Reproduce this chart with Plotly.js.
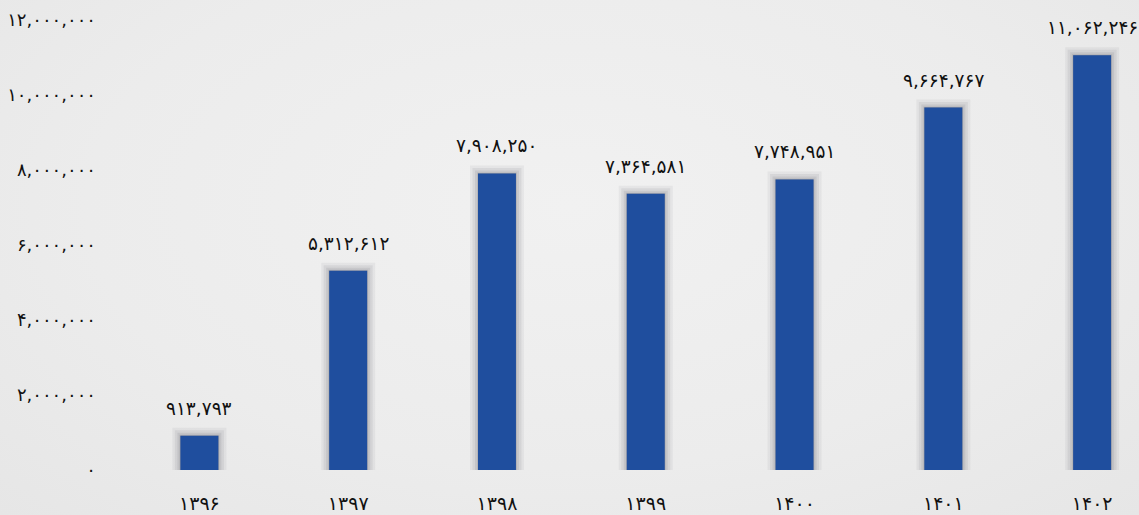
<!DOCTYPE html>
<html>
<head>
<meta charset="utf-8">
<script src="https://cdn.plot.ly/plotly-3.0.1.min.js"></script>
<style>
html,body{margin:0;padding:0;}
body{width:1139px;height:515px;background:radial-gradient(ellipse at 50% 40%, #f1f1f1 0%, #ececec 60%, #e6e6e6 100%);}
#chart{width:1139px;height:515px;}
</style>
</head>
<body>
<div id="chart"></div>
<script>
const years = ['۱۳۹۶','۱۳۹۷','۱۳۹۸','۱۳۹۹','۱۴۰۰','۱۴۰۱','۱۴۰۲'];
const values = [913793, 5312612, 7908250, 7364581, 7748951, 9664767, 11062246];
const yTickVals = [0, 2000000, 4000000, 6000000, 8000000, 10000000, 12000000];
const yTickText = ['۰','۲,۰۰۰,۰۰۰','۴,۰۰۰,۰۰۰','۶,۰۰۰,۰۰۰','۸,۰۰۰,۰۰۰','۱۰,۰۰۰,۰۰۰','۱۲,۰۰۰,۰۰۰'];

function toFa(n){
  const s = n.toLocaleString('en-US');
  return s.replace(/[0-9]/g, d => '۰۱۲۳۴۵۶۷۸۹'[+d]);
}

const FONT = '"DejaVu Sans", "Noto Sans", sans-serif';
const W = 0.255;

const traces = [];
// soft shadow layers
[[16,0.08],[11,0.10],[6,0.13],[2,0.18]].forEach(([lw,a])=>{
  traces.push({
    type:'bar', x: years, y: values, width: W,
    marker:{color:'rgba(100,100,110,'+a+')', line:{color:'rgba(100,100,110,'+a+')', width:lw}},
    hoverinfo:'skip', showlegend:false
  });
});
traces.push({
  type:'bar', x: years, y: values, width: W,
  marker:{color:'#1f4e9e', line:{width:0}},
  showlegend:false
});

const annotations = years.map((yr,i)=>({
  x: yr, y: values[i], text: toFa(values[i]), showarrow:false,
  yanchor:'bottom', yshift: 15,
  font:{family:FONT, size:18.5, color:'#111'}
}));

const layout = {
  width:1139, height:515,
  margin:{l:125, r:0, t:20, b:45},
  paper_bgcolor:'rgba(0,0,0,0)', plot_bgcolor:'rgba(0,0,0,0)',
  barmode:'overlay',
  showlegend:false,
  xaxis:{
    type:'category', range:[-0.5, 6.315],
    showgrid:false, zeroline:false, showline:false, ticks:'',
    tickfont:{family:FONT, size:19, color:'#111'},
    ticklabelstandoff: 20
  },
  yaxis:{
    range:[0, 12000000],
    tickvals: yTickVals, ticktext: yTickText,
    showgrid:false, zeroline:false, showline:false, ticks:'',
    tickfont:{family:FONT, size:18, color:'#111'},
    ticklabelstandoff: 28
  },
  annotations: annotations
};

Plotly.newPlot('chart', traces, layout, {displayModeBar:false, staticPlot:true});
</script>
</body>
</html>
